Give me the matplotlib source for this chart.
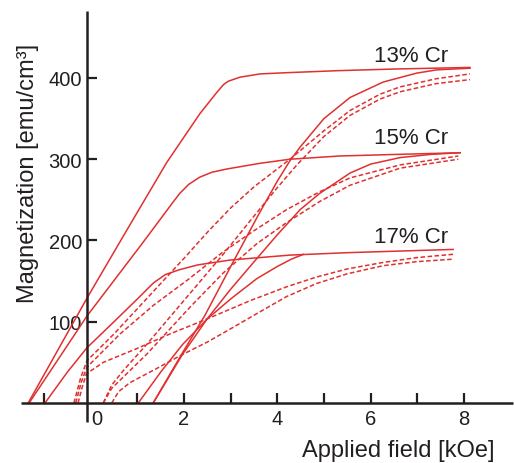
import matplotlib
matplotlib.use("Agg")
import matplotlib.pyplot as plt

plt.rcParams['font.family'] = ['Liberation Sans', 'DejaVu Sans']

# ---- data (applied field in kOe, magnetization in emu/cm^3) ----
# solid loops: descending (upper) and ascending (lower) branches
h13_up = [-1.34, -0.08, 0.91, 1.63, 2.34, 2.7, 2.85, 2.95, 3.2, 3.63, 4.2, 5.3, 6.5, 8.13]
m13_up = [0, 129, 226, 296, 356, 382, 392, 396, 401, 405, 406.5, 409, 411, 413]
h13_lo = [1.34, 1.97, 2.45, 3.02, 3.6, 4.0, 4.27, 4.49, 5.0, 5.56, 6.27, 6.99, 7.42, 8.13]
m13_lo = [0, 62, 108, 170, 232, 273, 298, 315, 350, 376, 395, 406, 410, 412]

h15_up = [-1.32, -0.08, 1.1, 1.49, 1.75, 1.91, 2.1, 2.34, 2.6, 2.92, 3.63, 4.27, 5.34, 6.6, 7.92]
m15_up = [0, 107, 196, 226, 246, 258, 269, 278, 284, 288, 295, 300, 304, 306, 308]
h15_lo = [1.34, 1.97, 2.49, 3.0, 3.49, 4.0, 4.49, 4.91, 5.56, 6.0, 6.63, 7.3, 7.92]
m15_lo = [0, 60, 103, 140, 173, 207, 238, 258, 283, 294, 302, 306, 308]

h17_up = [-0.98, -0.5, -0.08, 0.5, 1.0, 1.35, 1.6, 1.9, 2.3, 3.0, 4.27, 5.5, 7.77]
m17_up = [0, 38, 68, 100, 128, 148, 158, 164, 170, 176, 182, 185, 189]
h17_lo = [1.02, 1.5, 1.97, 2.49, 3.0, 3.56, 4.0, 4.3, 4.56]
m17_lo = [0, 38, 72, 103, 128, 153, 168, 177, 183]

# dashed loops
h13_da = [-0.36, -0.22, -0.08, 0.5, 1.0, 1.5, 2.0, 2.5, 3.0, 3.5, 4.27, 5.0, 5.56, 6.2, 6.63, 7.4, 8.13]
m13_da = [0, 30, 52, 85, 116, 147, 178, 210, 240, 266, 300, 335, 360, 380, 389, 399, 405]
h13_db = [0.27, 0.45, 0.7, 1.2, 2.13, 2.84, 3.5, 4.0, 4.42, 5.0, 5.56, 6.2, 6.63, 7.4, 8.13]
m13_db = [0, 22, 40, 72, 135, 183, 230, 265, 293, 328, 354, 374, 383, 393, 398]

h15_da = [-0.32, -0.2, -0.08, 0.63, 1.34, 2.09, 2.84, 3.5, 4.2, 4.91, 5.56, 6.63, 7.88]
m15_da = [0, 26, 44, 85, 120, 152, 186, 212, 238, 260, 277, 293, 304]
h15_db = [0.27, 0.45, 0.7, 1.2, 2.13, 2.84, 3.56, 4.2, 4.91, 5.56, 6.63, 7.88]
m15_db = [0, 18, 32, 60, 118, 160, 196, 222, 248, 268, 289, 300]

h17_da = [-0.27, -0.18, -0.09, 0.27, 0.99, 1.7, 2.56, 3.42, 4.2, 4.84, 5.5, 6.27, 7.0, 7.77]
m17_da = [0, 20, 36, 50, 67, 85, 105, 126, 143, 155, 165, 173, 179, 183]
h17_db = [0.45, 0.6, 0.84, 1.4, 1.91, 2.5, 2.99, 3.5, 4.2, 4.84, 5.5, 6.27, 7.0, 7.77]
m17_db = [0, 14, 25, 42, 58, 75, 91, 108, 131, 147, 159, 169, 174, 177]

labels = ["13% Cr", "15% Cr", "17% Cr"]
label_x = [6.87, 6.87, 6.87]
label_y = [428, 327, 205]

xticks = [-1, 1, 2, 3, 4, 5, 6, 7, 8]
xticklabels = ["", "", "2", "", "4", "", "6", "", "8"]
yticks = [100, 200, 300, 400]

# ---- figure ----
red = '#e0302f'
ink = '#231f20'
fig = plt.figure(figsize=(5.14, 4.64), dpi=100)
ax = fig.add_axes([0, 0, 1, 1])
ax.set_xlim(-1.944, 9.074)
ax.set_ylim(-73.85, 497.2)

solid = [(h13_up, m13_up), (h13_lo, m13_lo), (h15_up, m15_up), (h15_lo, m15_lo),
         (h17_up, m17_up), (h17_lo, m17_lo)]
dashed = [(h13_da, m13_da), (h13_db, m13_db), (h15_da, m15_da), (h15_db, m15_db),
          (h17_da, m17_da), (h17_db, m17_db)]
for h, m in solid:
    ax.plot(h, m, color=red, lw=1.1, solid_joinstyle='round')
for h, m in dashed:
    ax.plot(h, m, color=red, lw=1.1, dashes=(3, 1.6))

for t, x, y in zip(labels, label_x, label_y):
    ax.text(x, y, t, fontsize=16, color=ink, ha='center', va='center')

for s in ['top', 'right']:
    ax.spines[s].set_visible(False)
ax.spines['left'].set_position(('data', -0.08))
ax.spines['bottom'].set_position(('data', 0))
ax.spines['left'].set_bounds(-23, 482)
ax.spines['bottom'].set_bounds(-1.49, 9.05)
for s in ['left', 'bottom']:
    ax.spines[s].set_linewidth(1.8)
    ax.spines[s].set_color(ink)
    ax.spines[s].set_capstyle('butt')

ax.set_xticks(xticks, xticklabels)
ax.set_xticks([0.13], ["0"], minor=True)
ax.set_yticks(yticks, [str(v) for v in yticks])
ax.tick_params(axis='x', which='major', direction='in', length=7.5, width=1.6,
               color=ink, labelcolor=ink, labelsize=14.5, pad=4)
ax.tick_params(axis='x', which='minor', direction='in', length=0,
               labelcolor=ink, labelsize=14.5, pad=4)
ax.tick_params(axis='y', direction='in', length=7.5, width=1.6,
               color=ink, labelcolor=ink, labelsize=14.5, pad=3.5)

ax.set_xlabel("Applied field [kOe]", fontsize=17, color=ink)
ax.xaxis.label.set_ha('right')
ax.xaxis.label.set_va('top')
ax.xaxis.set_label_coords(494 / 514, 1 - 440 / 464)

ax.set_ylabel("Magnetization [emu/cm³]", fontsize=17, color=ink)
ax.yaxis.label.set_va('center')
ax.yaxis.label.set_ha('center')
ax.yaxis.set_label_coords(28 / 514, 1 - 173 / 464)

fig.savefig("out.png", dpi=100)
